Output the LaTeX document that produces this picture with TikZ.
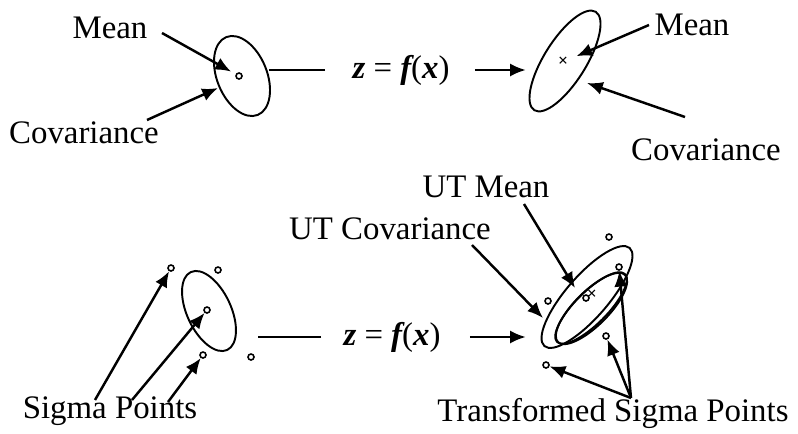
\documentclass[tikz,border=0pt]{standalone}
\usepackage{fontspec}
\setmainfont{Liberation Serif}
\usetikzlibrary{arrows.meta}

\begin{document}
\begin{tikzpicture}[x=0.02cm, y=-0.02cm,
  font=\fontsize{18.7}{22}\selectfont,
  arr/.style={-{Latex[length=9pt,width=7.5pt]}, line width=1.4pt},
  ell/.style={line width=1.1pt},
  conn/.style={line width=0.8pt},
  lab/.style={inner sep=0pt},
  spt/.style={draw, circle, inner sep=0pt, minimum size=0.12cm, line width=0.9pt},
  mk/.style={inner sep=0pt, font=\fontsize{10}{10}\selectfont\bfseries}]
  \useasboundingbox (0,0) rectangle (798,433);

  % prior, top
  \coordinate (E1) at (242,76);
  \draw[ell, rotate around={22:(E1)}] (E1) ellipse [x radius=0.5cm, y radius=0.84cm];
  \node[spt] (mu1) at (239,76) {};
  \node[lab] (mean1) at (110,28) {Mean};
  \node[lab] (cov1) at (84,133) {Covariance};
  \coordinate (mean1t) at (162,33);
  \coordinate (cov1t) at (147,120);
  \coordinate (cov1h) at (218,88);
  \draw[arr, shorten >=3pt] (mean1t) -- (mu1);
  \draw[arr] (cov1t) -- (cov1h);

  \node[lab] (f1) at (401,70) {{\bfseries\itshape z} = {\bfseries\itshape f}({\bfseries\itshape x})};
  \draw[conn] (f1.west) ++(-27,0) -- ++(-56,0);
  \draw[arr] (f1.east) ++(25,0) -- ++(51,0);

  \coordinate (E2) at (565,61);
  \draw[ell, rotate around={-32:(E2)}] (E2) ellipse [x radius=0.42cm, y radius=1.16cm];
  \node[mk] (mu2) at (563,62) {×};
  \node[lab] (mean2) at (692,25) {Mean};
  \node[lab] (cov2) at (706,150) {Covariance};
  \coordinate (mean2t) at (649,25);
  \coordinate (cov2t) at (685,117);
  \coordinate (cov2h) at (587,83);
  \draw[arr, shorten >=5pt] (mean2t) -- (mu2);
  \draw[arr] (cov2t) -- (cov2h);

  % sigma points, bottom
  \coordinate (E3) at (209,311);
  \draw[ell, rotate around={25:(E3)}] (E3) ellipse [x radius=0.44cm, y radius=0.86cm];
  \node[spt] (s1) at (171,268) {};
  \node[spt] (s2) at (218,270) {};
  \node[spt] (s3) at (207,310) {};
  \node[spt] (s4) at (203,355) {};
  \node[spt] (s5) at (251,357) {};
  \node[lab] (sig) at (110,411) {Sigma Points};
  \coordinate (sigA) at (95,400);
  \coordinate (sigB) at (132,400);
  \coordinate (sigC) at (168,402);
  \draw[arr] (sigA) -- (s1);
  \draw[arr] (sigB) -- (s3);
  \draw[arr] (sigC) -- (s4);

  \node[lab] (f2) at (392,337) {{\bfseries\itshape z} = {\bfseries\itshape f}({\bfseries\itshape x})};
  \draw[conn] (f2.west) ++(-22,0) -- ++(-63,0);
  \draw[arr] (f2.east) ++(29,0) -- ++(56,0);

  \coordinate (E4) at (587,297);
  \coordinate (E5) at (591,308);
  \coordinate (E6) at (591.5,308.5);
  \draw[ell, rotate around={49:(E4)}] (E4) ellipse [x radius=1.3cm, y radius=0.42cm];
  \draw[ell, rotate around={45:(E5)}] (E5) ellipse [x radius=0.96cm, y radius=0.32cm];
  \draw[ell, rotate around={45:(E6)}] (E6) ellipse [x radius=0.95cm, y radius=0.34cm];
  \node[spt] (t1) at (609,237) {};
  \node[spt] (t2) at (619,267) {};
  \node[spt] (t3) at (548,301) {};
  \node[spt] (t4) at (586,298) {};
  \node[spt] (t5) at (606,336) {};
  \node[spt] (t6) at (546,365) {};
  \node[mk] (mu3) at (592,295) {×};
  \node[lab] (utm) at (486,187) {UT Mean};
  \node[lab] (utc) at (390,229) {UT Covariance};
  \coordinate (utmt) at (524,204);
  \coordinate (utmh) at (575,288);
  \coordinate (utct) at (472,245);
  \coordinate (utch) at (543,318);
  \draw[arr] (utmt) -- (utmh);
  \draw[arr] (utct) -- (utch);
  \node[lab] (tsig) at (613,413) {Transformed Sigma Points};
  \coordinate (apex) at (631,398);
  \draw[arr] (apex) -- (t2);
  \draw[arr] (apex) -- (t5);
  \draw[arr] (apex) -- (t6);
\end{tikzpicture}
\end{document}
